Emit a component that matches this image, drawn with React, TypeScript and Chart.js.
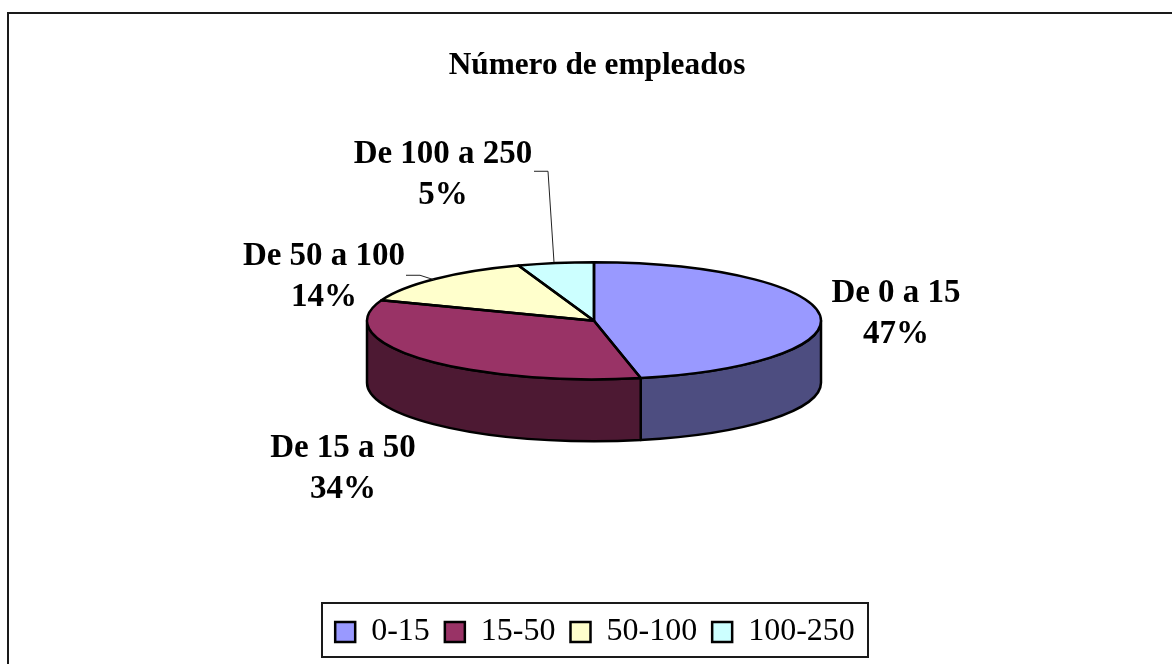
import React, { useEffect, useRef } from "react";
import { Chart } from "chart.js/auto";

const titleText = "Número de empleados";
const legendLabels = ["0-15", "15-50", "50-100", "100-250"];
const sliceLabels = ["De 0 a 15", "De 15 a 50", "De 50 a 100", "De 100 a 250"];
const values = [46.7, 34.0, 13.9, 5.4];
const topColors = ["#9999FF", "#993366", "#FFFFCC", "#CCFFFF"];
const wallColors = ["#4D4D80", "#4D1933", "#80806A", "#6A8080"];

const SERIF = "'Liberation Serif', 'Times New Roman', serif";
const RX = 227;
const RY = 58.5;
const DEPTH = 62;
const SHIFT_X = 8;
const SHIFT_Y = -22;
const TITLE_SHIFT_X = 11;
const LEGEND_SHIFT_X = 9;
const LABEL_FONT = 33;
// label centres, relative to the pie centre: [dx, first-line dy]
const labelOffsets = [
  [302, -27],
  [-251, 128],
  [-270, -64],
  [-151, -166],
];
const LINE_GAP = 41;
// leader lines, relative to the pie centre (only the two small slices have one)
const leaders: (number[][] | null)[] = [
  null,
  null,
  [[-188, -45.5], [-174, -45.5], [-160, -41]],
  [[-60, -149.5], [-46, -149.5], [-40, -58.5]],
];

const pie3d = {
  id: "pie3d",
  afterLayout(chart: any) {
    chart.titleBlock.left += TITLE_SHIFT_X;
    chart.titleBlock.right += TITLE_SHIFT_X;
    chart.legend.left += LEGEND_SHIFT_X;
    chart.legend.right += LEGEND_SHIFT_X;
  },
  beforeDraw(chart: any) {
    const { ctx, width, height } = chart;
    ctx.save();
    ctx.fillStyle = "#fff";
    ctx.fillRect(0, 0, width, height);
    ctx.strokeStyle = "#1a1a1a";
    ctx.lineWidth = 2;
    ctx.beginPath();
    ctx.moveTo(8, height);
    ctx.lineTo(8, 13);
    ctx.lineTo(width, 13);
    ctx.stroke();
    // legend frame
    ctx.lineWidth = 2;
    ctx.strokeRect(322, 603, 546, 54);
    ctx.restore();
  },
  beforeDatasetsDraw(chart: any) {
    const { ctx } = chart;
    const arcs = chart.getDatasetMeta(0).data;
    const cx = arcs[0].x + SHIFT_X;
    const cy = arcs[0].y + SHIFT_Y;
    ctx.save();
    ctx.strokeStyle = "#000";
    ctx.lineWidth = 2.5;
    ctx.lineJoin = "round";
    arcs.forEach((arc: any, i: number) => {
      const a = Math.max(arc.startAngle, 0);
      const b = Math.min(arc.endAngle, Math.PI);
      if (b <= a) return;
      ctx.beginPath();
      ctx.ellipse(cx, cy, RX, RY, 0, a, b);
      ctx.ellipse(cx, cy + DEPTH, RX, RY, 0, b, a, true);
      ctx.closePath();
      ctx.fillStyle = wallColors[i];
      ctx.fill();
      ctx.stroke();
    });
    ctx.restore();
    ctx.save();
    ctx.translate(cx, cy);
    ctx.scale(1, RY / RX);
    ctx.translate(-arcs[0].x, -arcs[0].y);
  },
  afterDatasetsDraw(chart: any) {
    const { ctx } = chart;
    ctx.restore();
    const arcs = chart.getDatasetMeta(0).data;
    const cx = arcs[0].x + SHIFT_X;
    const cy = arcs[0].y + SHIFT_Y;
    const total = values.reduce((s, v) => s + v, 0);
    ctx.save();
    ctx.strokeStyle = "#000";
    ctx.lineWidth = 2.5;
    ctx.lineJoin = "round";
    arcs.forEach((arc: any) => {
      ctx.beginPath();
      ctx.moveTo(cx, cy);
      ctx.ellipse(cx, cy, RX, RY, 0, arc.startAngle, arc.endAngle);
      ctx.closePath();
      ctx.stroke();
    });
    ctx.lineWidth = 1;
    ctx.strokeStyle = "#222";
    leaders.forEach((pts) => {
      if (!pts) return;
      ctx.beginPath();
      pts.forEach(([x, y], j) => (j ? ctx.lineTo(cx + x, cy + y) : ctx.moveTo(cx + x, cy + y)));
      ctx.stroke();
    });
    ctx.fillStyle = "#000";
    ctx.font = `bold ${LABEL_FONT}px ${SERIF}`;
    ctx.textAlign = "center";
    ctx.textBaseline = "middle";
    sliceLabels.forEach((name, i) => {
      const [dx, dy] = labelOffsets[i];
      ctx.fillText(name, cx + dx, cy + dy);
      ctx.fillText(`${Math.round((values[i] / total) * 100)}%`, cx + dx, cy + dy + LINE_GAP);
    });
    ctx.restore();
  },
};

export default function App() {
  const ref = useRef<HTMLCanvasElement | null>(null);
  useEffect(() => {
    document.body.style.margin = "0";
    const base = (Chart as any).overrides.doughnut.plugins.legend.labels.generateLabels;
    const chart = new Chart(ref.current as HTMLCanvasElement, {
      type: "pie",
      plugins: [pie3d],
      data: {
        labels: legendLabels,
        datasets: [
          {
            data: values,
            backgroundColor: topColors,
            borderWidth: 0,
            clip: false,
          } as any,
        ],
      },
      options: {
        responsive: false,
        animation: false,
        radius: RX,
        layout: { padding: { top: 0, bottom: 6, left: 0, right: 0 } },
        plugins: {
          tooltip: { enabled: false },
          title: {
            display: true,
            text: titleText,
            color: "#000",
            font: { family: SERIF, size: 31.3, weight: "bold" },
            padding: { top: 47, bottom: 0 },
          },
          legend: {
            position: "bottom",
            labels: {
              color: "#000",
              font: { family: SERIF, size: 32 },
              boxWidth: 20,
              boxHeight: 20,
              padding: 15,
              generateLabels: (c: any) =>
                base(c).map((it: any) => ({ ...it, lineWidth: 2.5, strokeStyle: "#000" })),
            },
          },
        },
      } as any,
    });
    return () => chart.destroy();
  }, []);
  return <canvas ref={ref} width={1172} height={664} style={{ display: "block" }} />;
}
